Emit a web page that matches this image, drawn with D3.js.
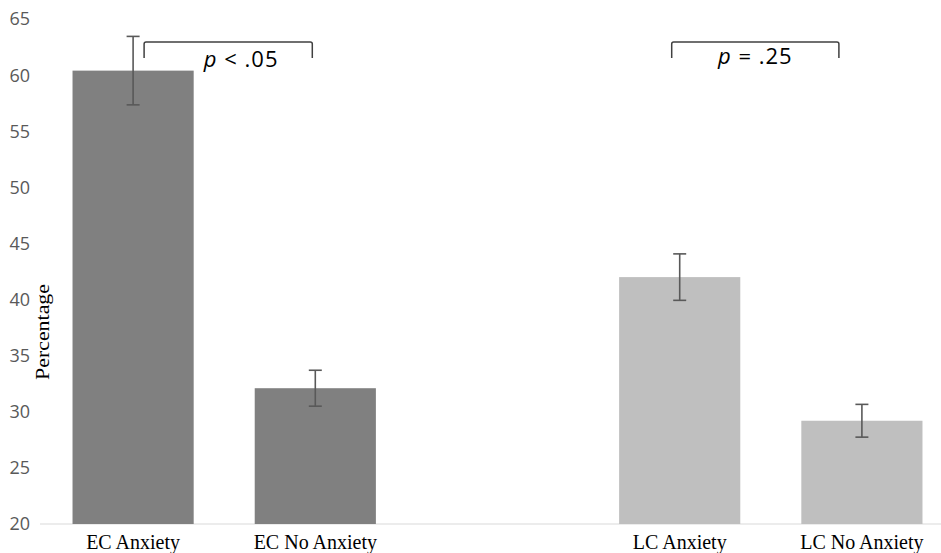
<!DOCTYPE html>
<html>
<head>
<meta charset="utf-8">
<script src="https://cdn.jsdelivr.net/npm/d3@7"></script>
<style>
  body { margin: 0; background: #fff; }
</style>
</head>
<body>
<div id="container"></div>
<script>
const categories = ['EC Anxiety', 'EC No Anxiety', '', 'LC Anxiety', 'LC No Anxiety'];
const values = [60.4, 32.1, null, 42.0, 29.2];
const errors = [3.05, 1.6, null, 2.07, 1.46];
const barColors = ['#808080', '#808080', null, '#bfbfbf', '#bfbfbf'];
const yTicks = [20, 25, 30, 35, 40, 45, 50, 55, 60, 65];
const bracketPairs = [[0, 1], [3, 4]];
const bracketLabels = ['< .05', '= .25'];

const width = 941, height = 553;
const margin = { top: 19, right: -12, bottom: 29, left: 42 };

const svg = d3.select('#container')
    .append('svg')
    .attr('width', width)
    .attr('height', height);

const x = d3.scaleBand()
    .domain(d3.range(categories.length))
    .range([margin.left, width - margin.right])
    .paddingInner(0.335)
    .paddingOuter(0.1675);

const y = d3.scaleLinear()
    .domain([20, 65])
    .range([height - margin.bottom, margin.top]);

const cx = i => x(i) + x.bandwidth() / 2;

// baseline
svg.append('line')
    .attr('x1', 40).attr('x2', width)
    .attr('y1', y(20)).attr('y2', y(20))
    .attr('stroke', '#d9d9d9')
    .attr('stroke-width', 1);

// y tick labels
svg.append('g')
    .selectAll('text')
    .data(yTicks).enter()
    .append('text')
    .attr('x', 30)
    .attr('y', d => y(d))
    .attr('dy', '0.36em')
    .attr('text-anchor', 'end')
    .attr('font-family', '"Open Sans", sans-serif')
    .attr('font-size', 18)
    .attr('fill', '#595959')
    .text(d => d);

// y label (a bit stretched like the original)
svg.append('text')
    .attr('transform', `translate(49, 332) rotate(-90)`)
    .attr('text-anchor', 'middle')
    .attr('font-family', '"Liberation Serif", serif')
    .attr('font-size', 18)
    .attr('textLength', 96)
    .attr('lengthAdjust', 'spacingAndGlyphs')
    .attr('fill', '#000')
    .text('Percentage');

const idx = d3.range(categories.length).filter(i => values[i] !== null);

// bars
svg.append('g')
    .selectAll('rect')
    .data(idx).enter()
    .append('rect')
    .attr('x', i => x(i))
    .attr('width', x.bandwidth())
    .attr('y', i => y(values[i]))
    .attr('height', i => y(20) - y(values[i]))
    .attr('fill', i => barColors[i]);

// error bars
const eb = svg.append('g')
    .attr('stroke', '#595959')
    .attr('stroke-width', 1.6);

idx.forEach(i => {
    const hi = y(values[i] + errors[i]);
    const lo = y(values[i] - errors[i]);
    eb.append('line').attr('x1', cx(i)).attr('x2', cx(i)).attr('y1', hi).attr('y2', lo);
    eb.append('line').attr('x1', cx(i) - 6.5).attr('x2', cx(i) + 6.5).attr('y1', hi).attr('y2', hi);
    eb.append('line').attr('x1', cx(i) - 6.5).attr('x2', cx(i) + 6.5).attr('y1', lo).attr('y2', lo);
});

// category labels
svg.append('g')
    .selectAll('text')
    .data(idx).enter()
    .append('text')
    .attr('x', i => cx(i))
    .attr('y', 549)
    .attr('text-anchor', 'middle')
    .attr('font-family', '"Liberation Serif", serif')
    .attr('font-size', 20)
    .attr('fill', '#000')
    .text(i => categories[i]);

// significance brackets (hand-placed in the original, so offsets differ)
const bracketLook = [
    { left: 11, right: -3, textDx: 13, textDy: 25 },
    { left: -8, right: -23, textDx: 0, textDy: 22 }
];
bracketPairs.forEach(([a, b], k) => {
    const look = bracketLook[k];
    const x1 = cx(a) + look.left;
    const x2 = cx(b) + look.right;
    const top = 42;
    svg.append('path')
        .attr('d', `M${x1},${top + 16} V${top + 2} Q${x1},${top} ${x1 + 2},${top} H${x2 - 2} Q${x2},${top} ${x2},${top + 2} V${top + 16}`)
        .attr('fill', 'none')
        .attr('stroke', '#404040')
        .attr('stroke-width', 1.5);
    const t = svg.append('text')
        .attr('x', (x1 + x2) / 2 + look.textDx)
        .attr('y', top + look.textDy)
        .attr('text-anchor', 'middle')
        .attr('font-family', '"Open Sans", sans-serif')
        .attr('font-size', 22)
        .attr('letter-spacing', 1)
        .attr('fill', '#000');
    t.append('tspan').attr('font-style', 'italic').text('p');
    t.append('tspan').text(' ' + bracketLabels[k]);
});
</script>
</body>
</html>
